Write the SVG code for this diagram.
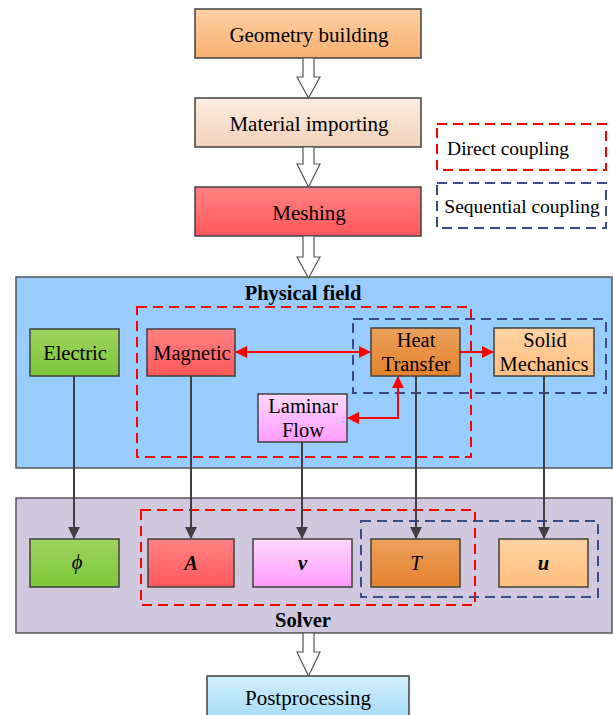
<svg xmlns="http://www.w3.org/2000/svg" width="613" height="715" viewBox="0 0 613 715" font-family="Liberation Serif, Times New Roman, serif">
<defs>
<linearGradient id="gGeo" x1="0" y1="0" x2="0" y2="1"><stop offset="0" stop-color="#fdd0a4"/><stop offset="1" stop-color="#f8b070"/></linearGradient>
<linearGradient id="gMat" x1="0" y1="0" x2="0" y2="1"><stop offset="0" stop-color="#fbece2"/><stop offset="1" stop-color="#f2d2b9"/></linearGradient>
<linearGradient id="gRed" x1="0" y1="0" x2="0" y2="1"><stop offset="0" stop-color="#ff8284"/><stop offset="1" stop-color="#ff585b"/></linearGradient>
<linearGradient id="gGreen" x1="0" y1="0" x2="0" y2="1"><stop offset="0" stop-color="#9dd45e"/><stop offset="1" stop-color="#7dc638"/></linearGradient>
<linearGradient id="gHeat" x1="0" y1="0" x2="0" y2="1"><stop offset="0" stop-color="#eca05c"/><stop offset="1" stop-color="#e4822e"/></linearGradient>
<linearGradient id="gSolid" x1="0" y1="0" x2="0" y2="1"><stop offset="0" stop-color="#ffd2a2"/><stop offset="1" stop-color="#ffbf80"/></linearGradient>
<linearGradient id="gLam" x1="0" y1="0" x2="0" y2="1"><stop offset="0" stop-color="#ffd8ff"/><stop offset="1" stop-color="#ff9cff"/></linearGradient>
<linearGradient id="gPost" x1="0" y1="0" x2="0" y2="1"><stop offset="0" stop-color="#d0effd"/><stop offset="1" stop-color="#a6dbf7"/></linearGradient>
<marker id="mGray" viewBox="0 0 12 12" refX="11" refY="6" markerWidth="12" markerHeight="12" markerUnits="userSpaceOnUse" orient="auto"><path d="M0,0 L12,6 L0,12 Z" fill="#404040"/></marker>
<marker id="mRed" viewBox="0 0 12 12" refX="11" refY="6" markerWidth="12" markerHeight="12" markerUnits="userSpaceOnUse" orient="auto-start-reverse"><path d="M0,0 L12,6 L0,12 Z" fill="#ff0000"/></marker>
</defs>
<style>
.box{stroke:#404040;stroke-width:1.5}
text{font-family:'Liberation Serif','Times New Roman',serif;fill:#000;text-anchor:middle}
.t18{font-size:21px}
.t16{font-size:20.5px}
.lg{font-size:19.5px}
.title{font-size:20.5px;font-weight:bold}
.rd{fill:none;stroke:#ff0000;stroke-width:2;stroke-dasharray:10 6}
.bd{fill:none;stroke:#3a4a8a;stroke-width:2;stroke-dasharray:10 6}
.blk{fill:#ffffff;stroke:#555;stroke-width:1.2}
.g{stroke:#404040;stroke-width:2;fill:none}
.r{stroke:#ff0000;stroke-width:2;fill:none}
</style>

<g id="geometry"><rect class="box" x="195" y="9" width="226" height="49" fill="url(#gGeo)"/><text class="t18" x="309" y="42">Geometry building</text></g>
<g id="material"><rect class="box" x="195" y="98" width="226" height="49" fill="url(#gMat)"/><text class="t18" x="309" y="131">Material importing</text></g>
<g id="meshing"><rect class="box" x="195" y="187" width="226" height="49" fill="url(#gRed)"/><text class="t18" x="309" y="220">Meshing</text></g>

<g id="legend">
<rect class="rd" x="437" y="124" width="169" height="46"/><text class="lg" x="508" y="155">Direct coupling</text>
<rect class="bd" x="437" y="183" width="169" height="45"/><text class="lg" x="522" y="213">Sequential coupling</text>
</g>

<g id="physical">
<rect x="16" y="277" width="596" height="191" fill="#99ccff" stroke="#555" stroke-width="1.5"/>
<text class="title" x="303" y="300">Physical field</text>
<rect class="rd" x="137" y="307" width="334" height="150"/>
<rect class="bd" x="353" y="319" width="253" height="74"/>
</g>
<g id="electric"><rect class="box" x="30" y="329" width="89" height="47" fill="url(#gGreen)"/><text class="t16" x="75" y="360">Electric</text></g>
<g id="magnetic"><rect class="box" x="147" y="329" width="88" height="47" fill="url(#gRed)"/><text class="t16" x="192" y="360">Magnetic</text></g>
<g id="heat"><rect class="box" x="371" y="328" width="89" height="48" fill="url(#gHeat)"/><text class="t16" x="416" y="347">Heat</text><text class="t16" x="416" y="371">Transfer</text></g>
<g id="solid"><rect class="box" x="494" y="328" width="100" height="48" fill="url(#gSolid)"/><text class="t16" x="545" y="347">Solid</text><text class="t16" x="544" y="371">Mechanics</text></g>
<g id="laminar"><rect class="box" x="258" y="394" width="89" height="48" fill="url(#gLam)"/><text class="t16" x="303" y="413">Laminar</text><text class="t16" x="303" y="437">Flow</text></g>

<g id="solver">
<rect x="16" y="498" width="596" height="135" fill="#d0c8dc" stroke="#555" stroke-width="1.5"/>
<text class="title" x="303" y="627">Solver</text>
<rect class="rd" x="141" y="510" width="334" height="95"/>
<rect class="bd" x="361" y="521" width="237" height="76"/>
</g>
<g id="phi"><rect class="box" x="30" y="539" width="89" height="48" fill="url(#gGreen)"/><text class="t16" x="77" y="569" font-style="italic">ϕ</text></g>
<g id="A"><rect class="box" x="148" y="539" width="86" height="48" fill="url(#gRed)"/><text class="t16" x="191" y="570" font-style="italic" font-weight="bold">A</text></g>
<g id="v"><rect class="box" x="253" y="539" width="99" height="48" fill="url(#gLam)"/><text class="t16" x="302.5" y="570" font-style="italic" font-weight="bold">v</text></g>
<g id="T"><rect class="box" x="371" y="539" width="89" height="48" fill="url(#gHeat)"/><text class="t16" x="416" y="570" font-style="italic">T</text></g>
<g id="u"><rect class="box" x="499" y="539" width="89" height="48" fill="url(#gSolid)"/><text class="t16" x="543.5" y="570" font-style="italic" font-weight="bold">u</text></g>

<g id="post"><rect class="box" x="207" y="676" width="202" height="45" fill="url(#gPost)"/><text class="t18" x="308" y="705">Postprocessing</text></g>

<g id="connectors">
<path class="blk" d="M303,58 H314 V77 H320 L308.5,98 L297,77 H303 Z"/>
<path class="blk" d="M303,147 H314 V164 H320 L308.5,187 L297,164 H303 Z"/>
<path class="blk" d="M303,236 H314 V257 H320 L308.5,278 L297,257 H303 Z"/>
<path class="blk" d="M303,633 H314 V652 H320 L308.5,676 L297,652 H303 Z"/>

<line class="r" x1="236" y1="352" x2="370" y2="352" marker-start="url(#mRed)" marker-end="url(#mRed)"/>
<line class="r" x1="460" y1="352" x2="493" y2="352" marker-end="url(#mRed)"/>
<path class="r" d="M348,418 H398 V377" marker-start="url(#mRed)" marker-end="url(#mRed)"/>

<line class="g" x1="74" y1="376" x2="74" y2="538" marker-end="url(#mGray)"/>
<line class="g" x1="191" y1="376" x2="191" y2="538" marker-end="url(#mGray)"/>
<line class="g" x1="302" y1="442" x2="302" y2="538" marker-end="url(#mGray)"/>
<line class="g" x1="416" y1="376" x2="416" y2="538" marker-end="url(#mGray)"/>
<line class="g" x1="544" y1="376" x2="544" y2="538" marker-end="url(#mGray)"/>
</g>
</svg>
